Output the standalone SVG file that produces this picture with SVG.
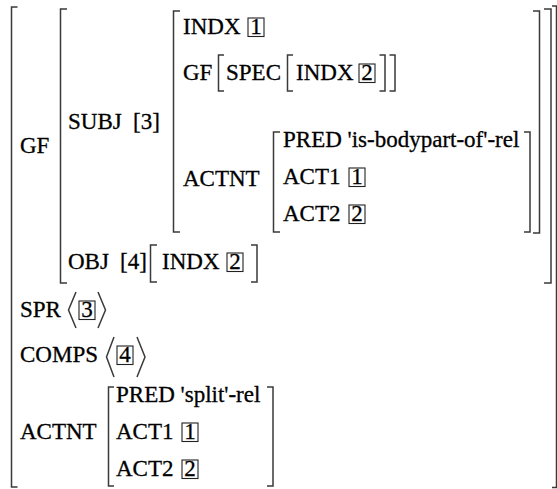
<svg xmlns="http://www.w3.org/2000/svg" width="557" height="489" viewBox="0 0 557 489">
<style>
.t{font-family:"Liberation Serif","Times New Roman",serif;font-size:23px;fill:#000;stroke:#000;stroke-width:0.3}
.br{fill:none;stroke:#3a3a3a;stroke-width:1.5}
.bx{fill:none;stroke:#222;stroke-width:1.1}
</style>
<rect width="557" height="489" fill="#fff"/>
<g id="avm-outer">
  <path class="br" d="M17.5,7 H11.5 V487 H17.5"/>
  <path class="br" d="M552,6 H556.5 V487.5 H552"/>
  <text class="t" x="20" y="153">GF</text>
  <text class="t" x="20" y="317">SPR</text>
  <text class="t" x="20" y="362">COMPS</text>
  <text class="t" x="20" y="439">ACTNT</text>
</g>
<g id="avm-gf">
  <path class="br" d="M67,9 H60.5 V283 H67"/>
  <path class="br" d="M544,9 H551 V283 H544"/>
  <text class="t" x="68" y="129">SUBJ</text>
  <text class="t" x="133" y="129">[3]</text>
  <text class="t" x="68" y="269">OBJ</text>
  <text class="t" x="120" y="269">[4]</text>
</g>
<g id="avm-subj">
  <path class="br" d="M180,11 H173.5 V232 H180"/>
  <path class="br" d="M533,11 H539.5 V233 H533"/>
  <text class="t" x="183" y="34">INDX</text>
  <rect class="bx" x="248" y="18" width="16" height="18.5"/>
  <text class="t" x="250.25" y="34">1</text>
  <text class="t" x="183" y="80">GF</text>
  <text class="t" x="183" y="186">ACTNT</text>
</g>
<g id="avm-gf-spec">
  <path class="br" d="M224,55 H218.5 V91 H224"/>
  <path class="br" d="M389.5,55 H395 V91 H389.5"/>
  <text class="t" x="226" y="80">SPEC</text>
</g>
<g id="avm-spec-indx">
  <path class="br" d="M293,55 H287.5 V91 H293"/>
  <path class="br" d="M379.5,55 H385 V91 H379.5"/>
  <text class="t" x="296" y="80">INDX</text>
  <rect class="bx" x="359" y="64" width="16" height="18.5"/>
  <text class="t" x="361.25" y="80">2</text>
</g>
<g id="avm-actnt-inner">
  <path class="br" d="M280,132 H273.5 V232 H280"/>
  <path class="br" d="M524,132 H530 V232 H524"/>
  <text class="t" x="283" y="147">PRED 'is-bodypart-of'-rel</text>
  <text class="t" x="283" y="184">ACT1</text>
  <rect class="bx" x="349" y="168" width="16" height="18.5"/>
  <text class="t" x="351.25" y="184">1</text>
  <text class="t" x="283" y="221">ACT2</text>
  <rect class="bx" x="349" y="205" width="16" height="18.5"/>
  <text class="t" x="351.25" y="221">2</text>
</g>
<g id="avm-obj">
  <path class="br" d="M157,245 H150.5 V282 H157"/>
  <path class="br" d="M251,245 H257 V282 H251"/>
  <text class="t" x="162" y="269">INDX</text>
  <rect class="bx" x="227" y="253" width="16" height="18.5"/>
  <text class="t" x="229.25" y="269">2</text>
</g>
<g id="list-spr">
  <path class="br" d="M76,292 L68.5,310 L76,328"/>
  <rect class="bx" x="79" y="301" width="16" height="18.5"/>
  <text class="t" x="81.25" y="317">3</text>
  <path class="br" d="M98,292 L105.5,310 L98,328"/>
</g>
<g id="list-comps">
  <path class="br" d="M114,337 L106.5,357 L114,377"/>
  <rect class="bx" x="117" y="346" width="16" height="18.5"/>
  <text class="t" x="119.25" y="362">4</text>
  <path class="br" d="M137,337 L145,357 L137,377"/>
</g>
<g id="avm-actnt-outer">
  <path class="br" d="M114,387 H108.5 V486 H114"/>
  <path class="br" d="M267,387 H273 V486 H267"/>
  <text class="t" x="116" y="402">PRED 'split'-rel</text>
  <text class="t" x="116" y="439">ACT1</text>
  <rect class="bx" x="182" y="423" width="16" height="18.5"/>
  <text class="t" x="184.25" y="439">1</text>
  <text class="t" x="116" y="476">ACT2</text>
  <rect class="bx" x="182" y="460" width="16" height="18.5"/>
  <text class="t" x="184.25" y="476">2</text>
</g>
<g id="connectors"></g>
</svg>
